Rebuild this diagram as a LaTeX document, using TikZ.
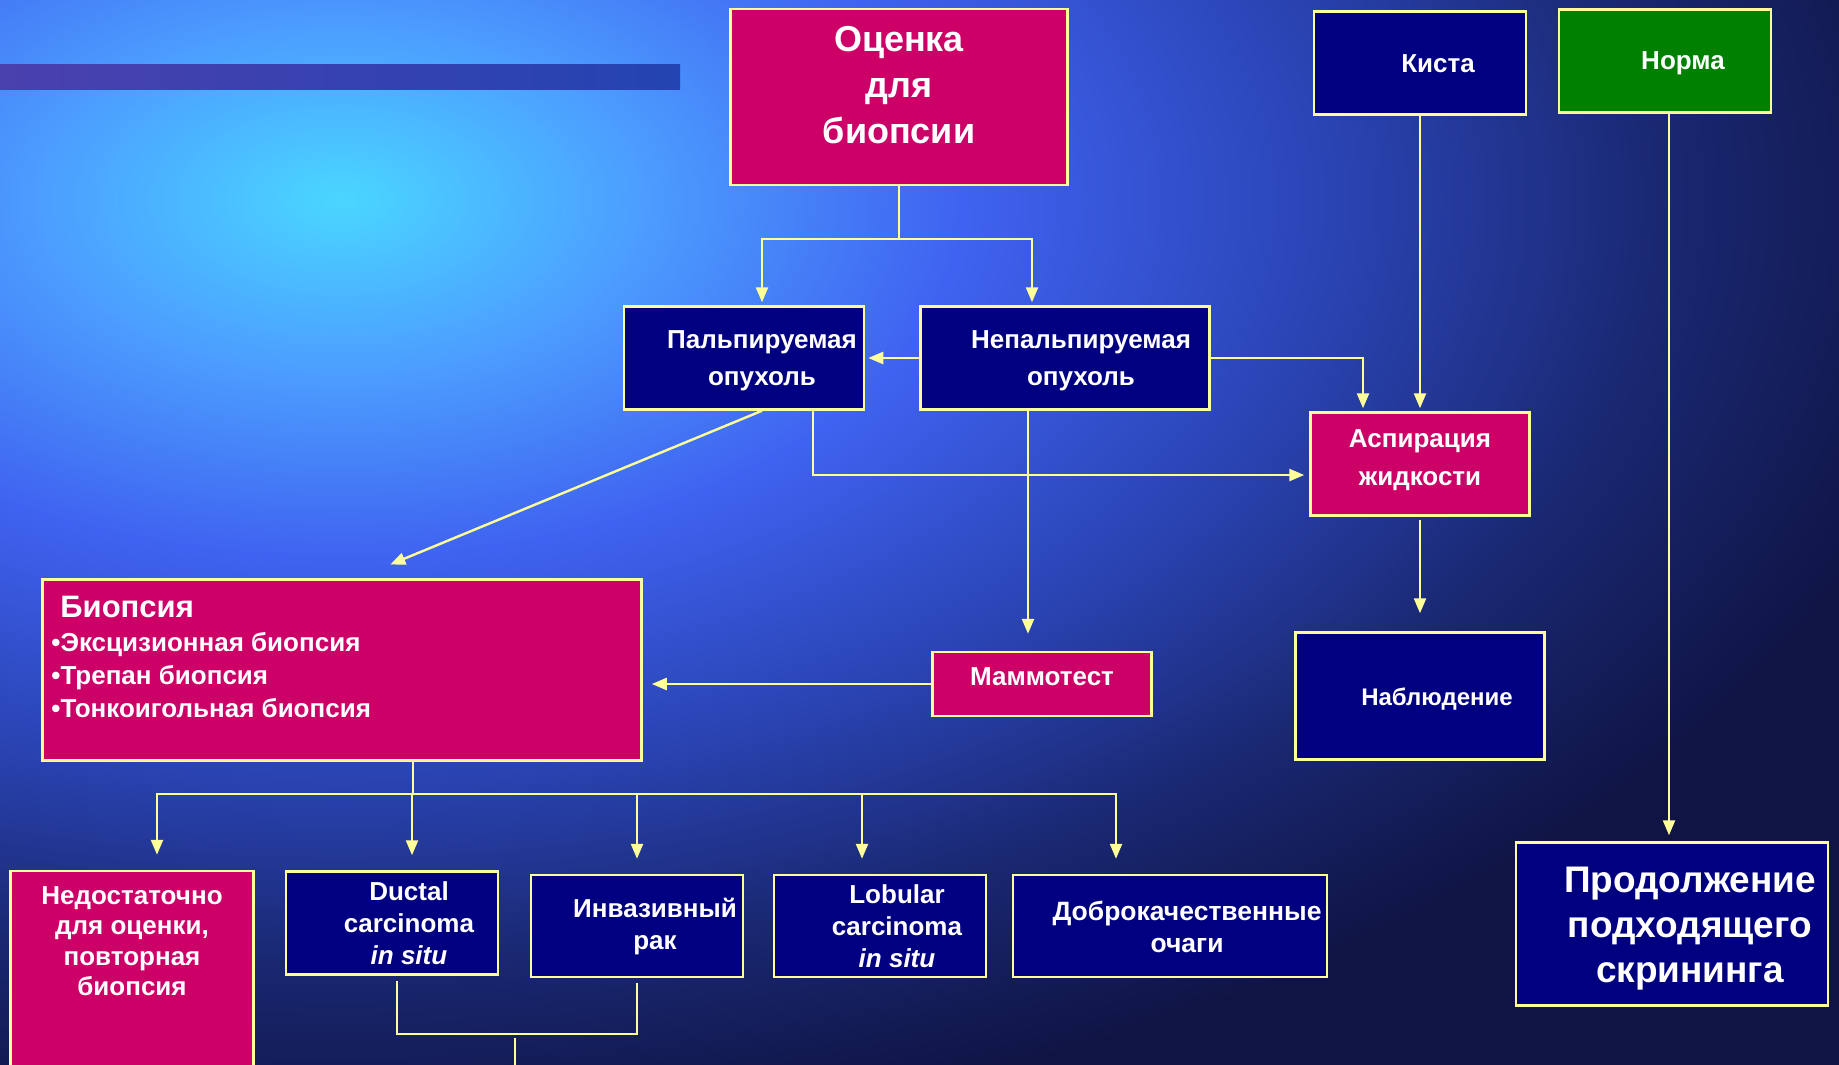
\documentclass[tikz,border=0pt]{standalone}
\usepackage{fontspec}
\setmainfont{Liberation Sans}
\usetikzlibrary{arrows.meta,calc}

\definecolor{slidepink}{HTML}{CC0066}
\definecolor{slidenavy}{HTML}{000080}
\definecolor{slidegreen}{HTML}{008000}
\definecolor{lineyel}{HTML}{FFFF99}
\definecolor{bgbase}{HTML}{0F1444}
\definecolor{glowA}{HTML}{4AD6FF}
\definecolor{glowB}{HTML}{4C9EFF}
\definecolor{glowC}{HTML}{3F62F0}
\definecolor{glowD}{HTML}{2A44B4}
\definecolor{glowE}{HTML}{1A2872}
\definecolor{barL}{HTML}{4A40AE}
\definecolor{barR}{HTML}{2344B2}

% the edge of the shaded path sits at 25bp
\pgfdeclareradialshading{bgglow}{\pgfpoint{0bp}{0bp}}{%
  color(0bp)=(glowA); color(4.5bp)=(glowB); color(9.5bp)=(glowC);
  color(15bp)=(glowD); color(20bp)=(glowE); color(25bp)=(bgbase); color(50bp)=(bgbase)}

\begin{document}
\begin{tikzpicture}[
  x=1pt, y=-1pt,
  box/.style={draw=lineyel, line width=2.5pt, inner sep=0pt},
  pinkbox/.style={box, fill=slidepink},
  navybox/.style={box, fill=slidenavy},
  greenbox/.style={box, fill=slidegreen},
  txt/.style={text=white, align=center, inner sep=0pt, font=\bfseries\fontsize{26}{33}\selectfont},
  bigtxt/.style={txt, font=\bfseries\fontsize{36}{46}\selectfont},
  conn/.style={draw=lineyel, line width=2.4pt},
  arrow/.style={conn, -{Triangle[length=15pt,width=12pt]}, shorten >=3pt},
]

% background
\path[use as bounding box] (0,0) rectangle (1839,1065);
\clip (0,0) rectangle (1839,1065);
\fill[bgbase] (0,0) rectangle (1839,1065);
\shade[shading=bgglow] (340,200) ellipse [x radius=1650, y radius=950];
\fill[left color=barL, right color=barR] (0,64.5) rectangle (680,89);

% === TOP ROW ===
\node[pinkbox, minimum width=337, minimum height=176,
  label={[bigtxt, yshift=12pt]center:{Оценка\\для\\биопсии}}] (eval) at (899,97) {};
\node[navybox, minimum width=212, minimum height=103,
  label={[txt, xshift=18pt, yshift=-1pt]center:Киста}] (kista) at (1420,63) {};
\node[greenbox, minimum width=212, minimum height=103,
  label={[txt, xshift=18pt, yshift=-2pt]center:Норма}] (norma) at (1665,61) {};

% === TUMOUR ===
\node[navybox, minimum width=240, minimum height=103,
  label={[txt, xshift=18pt, yshift=-3pt, font=\bfseries\fontsize{26}{37}\selectfont]center:{Пальпируемая\\опухоль}}] (palp) at (744,358) {};
\node[navybox, minimum width=289, minimum height=103,
  label={[txt, xshift=16pt, yshift=-3pt, font=\bfseries\fontsize{26}{37}\selectfont]center:{Непальпируемая\\опухоль}}] (nonpalp) at (1065,358) {};
\node[pinkbox, minimum width=219, minimum height=103,
  label={[txt, yshift=4pt, font=\bfseries\fontsize{26}{38}\selectfont]center:{Аспирация\\жидкости}}] (asp) at (1420,464) {};

% === MIDDLE ===
\node[pinkbox, minimum width=599, minimum height=181] (biop) at (342,670) {};
\node[txt, align=left, anchor=north west] (bioptxt) at ([xshift=10pt, yshift=-18pt]biop.north west)
  {{\fontsize{31}{36}\selectfont\hspace*{9pt}Биопсия}\\[1pt]
   •Эксцизионная биопсия\\•Трепан биопсия\\•Тонкоигольная биопсия};
\node[pinkbox, minimum width=219, minimum height=64,
  label={[txt, yshift=7pt]center:Маммотест}] (mammo) at (1042,684) {};
\node[navybox, minimum width=249, minimum height=127,
  label={[txt, xshift=17pt, yshift=-3pt, font=\bfseries\fontsize{24}{30}\selectfont]center:Наблюдение}] (nabl) at (1420,696) {};

% === RESULTS ===
\node[pinkbox, minimum width=243, minimum height=204,
  label={[txt, yshift=32pt, font=\bfseries\fontsize{26}{30.5}\selectfont]center:{Недостаточно\\для оценки,\\повторная\\биопсия}}] (insuf) at (132,973) {};
\node[navybox, minimum width=212, minimum height=103,
  label={[txt, xshift=17pt, font=\bfseries\fontsize{26}{32}\selectfont]center:{Ductal\\carcinoma\\\textit{in situ}}}] (ductal) at (392,923) {};
\node[navybox, minimum width=212, minimum height=102,
  label={[txt, xshift=18pt, yshift=-1pt, font=\bfseries\fontsize{26}{32}\selectfont]center:{Инвазивный\\рак}}] (invas) at (637,926) {};
\node[navybox, minimum width=212, minimum height=102,
  label={[txt, xshift=17pt, font=\bfseries\fontsize{26}{32}\selectfont]center:{Lobular\\carcinoma\\\textit{in situ}}}] (lobular) at (880,926) {};
\node[navybox, minimum width=314, minimum height=102,
  label={[txt, xshift=17pt, yshift=-1pt, font=\bfseries\fontsize{26.5}{32}\selectfont]center:{Доброкачественные\\очаги}}] (benign) at (1170,926) {};
\node[navybox, minimum width=312, minimum height=163,
  label={[bigtxt, xshift=18pt, yshift=-5pt, font=\bfseries\fontsize{37}{45}\selectfont]center:{Продолжение\\подходящего\\скрининга}}] (cont) at (1672,924) {};

% === CONNECTORS ===
\draw[conn] (eval.south) -- ++(0,53) coordinate (split);
\draw[arrow] (split) -| ([xshift=18pt]palp.north);
\draw[arrow] (split) -| ([xshift=-33pt]nonpalp.north);
\draw[arrow] (nonpalp.west) -- (palp.east);
\draw[arrow] (nonpalp.east) -| ([xshift=-57pt]asp.north);
\draw[arrow] (kista) -- (asp);
\draw[arrow, shorten >=6pt] ([xshift=4pt]norma.south) -- ([xshift=4pt]norma.south |- cont.north);
\draw[arrow, shorten >=5pt] ([xshift=69pt]palp.south) |- ([yshift=-11pt]asp.west);
\draw[arrow, shorten >=36pt] ([xshift=18pt]palp.south) -- ([xshift=15pt]biop.north);
\draw[arrow, shorten >=17pt] ([xshift=-37pt]nonpalp.south) -- ([xshift=-37pt]nonpalp.south |- mammo.north);
\draw[arrow, shorten >=9pt] (mammo.west) -- (mammo.west -| biop.east);
\draw[arrow, shorten <=3pt, shorten >=18pt] (asp) -- (nabl);

\draw[conn] ([xshift=71pt]biop.south) -- ++(0,32) coordinate (fork);
\foreach \res/\dx in {insuf/25, ductal/20, invas/0, lobular/-18, benign/-54}
  \draw[arrow, shorten >=15pt] (fork) -| ([xshift=\dx pt]\res.north);

\coordinate (brk) at (517,1034);
\draw[conn] ([xshift=5pt, yshift=-5pt]ductal.south) |- (brk -| invas.south) -- ([yshift=-5pt]invas.south);
\draw[conn] (brk) ++(-2,4) -- (515,1075);
\end{tikzpicture}
\end{document}
